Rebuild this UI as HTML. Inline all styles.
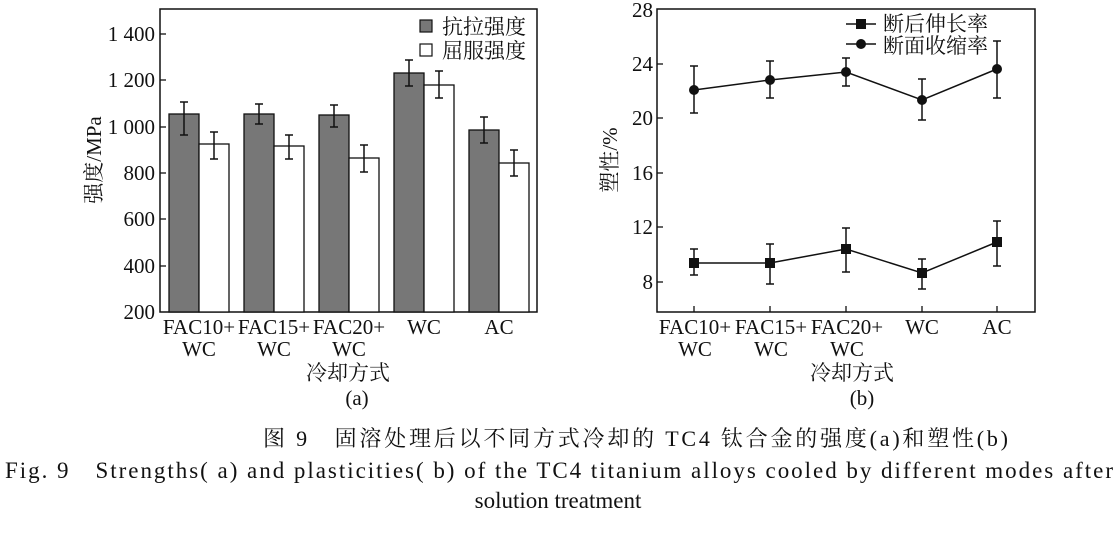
<!DOCTYPE html>
<html><head><meta charset="utf-8"><style>
body{margin:0;background:#fff;}
svg text{font-family:"Liberation Serif","Noto Serif CJK SC",serif;fill:#111;}
</style></head><body>
<svg width="1117" height="547" viewBox="0 0 1117 547" xmlns="http://www.w3.org/2000/svg">
<g stroke="#111" stroke-width="1.5" fill="none">
<rect x="160" y="9" width="377" height="303"/>
<rect x="657" y="9" width="378" height="303"/>
</g>
<g stroke="#111" stroke-width="1.3">
<line x1="160" y1="34" x2="166" y2="34"/><line x1="160" y1="80" x2="166" y2="80"/>
<line x1="160" y1="127" x2="166" y2="127"/><line x1="160" y1="173" x2="166" y2="173"/>
<line x1="160" y1="219" x2="166" y2="219"/><line x1="160" y1="266" x2="166" y2="266"/>
</g>
<g font-size="21" text-anchor="end">
<text x="155" y="41">1 400</text><text x="155" y="87">1 200</text><text x="155" y="134">1 000</text>
<text x="155" y="180">800</text><text x="155" y="226">600</text><text x="155" y="273">400</text><text x="155" y="319">200</text>
</g>
<text transform="translate(101,160) rotate(-90)" font-size="21" text-anchor="middle">强度/MPa</text>
<g stroke="#111" stroke-width="1.3">
<rect x="169" y="114" width="30" height="198" fill="#777"/><rect x="199" y="144" width="30" height="168" fill="#fff"/>
<rect x="244" y="114" width="30" height="198" fill="#777"/><rect x="274" y="146" width="30" height="166" fill="#fff"/>
<rect x="319" y="115" width="30" height="197" fill="#777"/><rect x="349" y="158" width="30" height="154" fill="#fff"/>
<rect x="394" y="73" width="30" height="239" fill="#777"/><rect x="424" y="85" width="30" height="227" fill="#fff"/>
<rect x="469" y="130" width="30" height="182" fill="#777"/><rect x="499" y="163" width="30" height="149" fill="#fff"/>
</g>
<g stroke="#111" stroke-width="1.5">
<path d="M184 102V135M180 102h8M180 135h8"/><path d="M214 132V159M210 132h8M210 159h8"/>
<path d="M259 104V124M255 104h8M255 124h8"/><path d="M289 135V159M285 135h8M285 159h8"/>
<path d="M334 105V127M330 105h8M330 127h8"/><path d="M364 145V172M360 145h8M360 172h8"/>
<path d="M409 60V86M405 60h8M405 86h8"/><path d="M439 71V98M435 71h8M435 98h8"/>
<path d="M484 117V143M480 117h8M480 143h8"/><path d="M514 150V176M510 150h8M510 176h8"/>
</g>
<rect x="420" y="20" width="12" height="12" fill="#777" stroke="#111" stroke-width="1.2"/>
<rect x="420" y="44" width="12" height="12" fill="#fff" stroke="#111" stroke-width="1.2"/>
<g font-size="21"><text x="442" y="34">抗拉强度</text><text x="442" y="58">屈服强度</text></g>
<g font-size="21" text-anchor="middle">
<text x="199" y="334">FAC10+</text><text x="199" y="356">WC</text>
<text x="274" y="334">FAC15+</text><text x="274" y="356">WC</text>
<text x="349" y="334">FAC20+</text><text x="349" y="356">WC</text>
<text x="424" y="334">WC</text><text x="499" y="334">AC</text>
<text x="348" y="380">冷却方式</text><text x="357" y="405">(a)</text>
</g>
<g stroke="#111" stroke-width="1.3">
<line x1="657" y1="64" x2="663" y2="64"/><line x1="657" y1="118" x2="663" y2="118"/>
<line x1="657" y1="173" x2="663" y2="173"/><line x1="657" y1="227" x2="663" y2="227"/>
<line x1="657" y1="282" x2="663" y2="282"/>
<line x1="694" y1="312" x2="694" y2="306"/><line x1="770" y1="312" x2="770" y2="306"/>
<line x1="846" y1="312" x2="846" y2="306"/><line x1="922" y1="312" x2="922" y2="306"/>
<line x1="997" y1="312" x2="997" y2="306"/>
</g>
<g font-size="21" text-anchor="end">
<text x="653" y="17">28</text><text x="653" y="71">24</text><text x="653" y="125">20</text>
<text x="653" y="180">16</text><text x="653" y="234">12</text><text x="653" y="289">8</text>
</g>
<text transform="translate(617,160) rotate(-90)" font-size="21" text-anchor="middle">塑性/%</text>
<g stroke="#111" stroke-width="1.5" fill="none">
<polyline points="694,90 770,80 846,72 922,100 997,69"/>
<polyline points="694,263 770,263 846,249 922,273 997,242"/>
<path d="M694 66V113M690 66h8M690 113h8"/><path d="M770 61V98M766 61h8M766 98h8"/>
<path d="M846 58V86M842 58h8M842 86h8"/><path d="M922 79V120M918 79h8M918 120h8"/>
<path d="M997 41V98M993 41h8M993 98h8"/>
<path d="M694 249V275M690 249h8M690 275h8"/><path d="M770 244V284M766 244h8M766 284h8"/>
<path d="M846 228V272M842 228h8M842 272h8"/><path d="M922 259V289M918 259h8M918 289h8"/>
<path d="M997 221V266M993 221h8M993 266h8"/>
<path d="M846 24h30M846 44h30"/>
</g>
<g fill="#111">
<circle cx="694" cy="90" r="5"/><circle cx="770" cy="80" r="5"/><circle cx="846" cy="72" r="5"/>
<circle cx="922" cy="100" r="5"/><circle cx="997" cy="69" r="5"/>
<rect x="689" y="258" width="10" height="10"/><rect x="765" y="258" width="10" height="10"/>
<rect x="841" y="244" width="10" height="10"/><rect x="917" y="268" width="10" height="10"/>
<rect x="992" y="237" width="10" height="10"/>
<rect x="856" y="19" width="10" height="10"/><circle cx="861" cy="44" r="5"/>
</g>
<g font-size="21"><text x="883" y="31">断后伸长率</text><text x="883" y="53">断面收缩率</text></g>
<g font-size="21" text-anchor="middle">
<text x="695" y="334">FAC10+</text><text x="695" y="356">WC</text>
<text x="771" y="334">FAC15+</text><text x="771" y="356">WC</text>
<text x="847" y="334">FAC20+</text><text x="847" y="356">WC</text>
<text x="922" y="334">WC</text><text x="997" y="334">AC</text>
<text x="852" y="380">冷却方式</text><text x="862" y="405">(b)</text>
</g>
<text x="263" y="446" font-size="22" textLength="745" lengthAdjust="spacing">图 9　固溶处理后以不同方式冷却的 TC4 钛合金的强度(a)和塑性(b)</text>
<text x="5" y="478" font-size="23" textLength="1108" lengthAdjust="spacing">Fig. 9　Strengths( a)  and plasticities( b)  of the TC4 titanium alloys cooled by different modes after</text>
<text x="558" y="508" font-size="23" text-anchor="middle">solution treatment</text>
</svg>
</body></html>
